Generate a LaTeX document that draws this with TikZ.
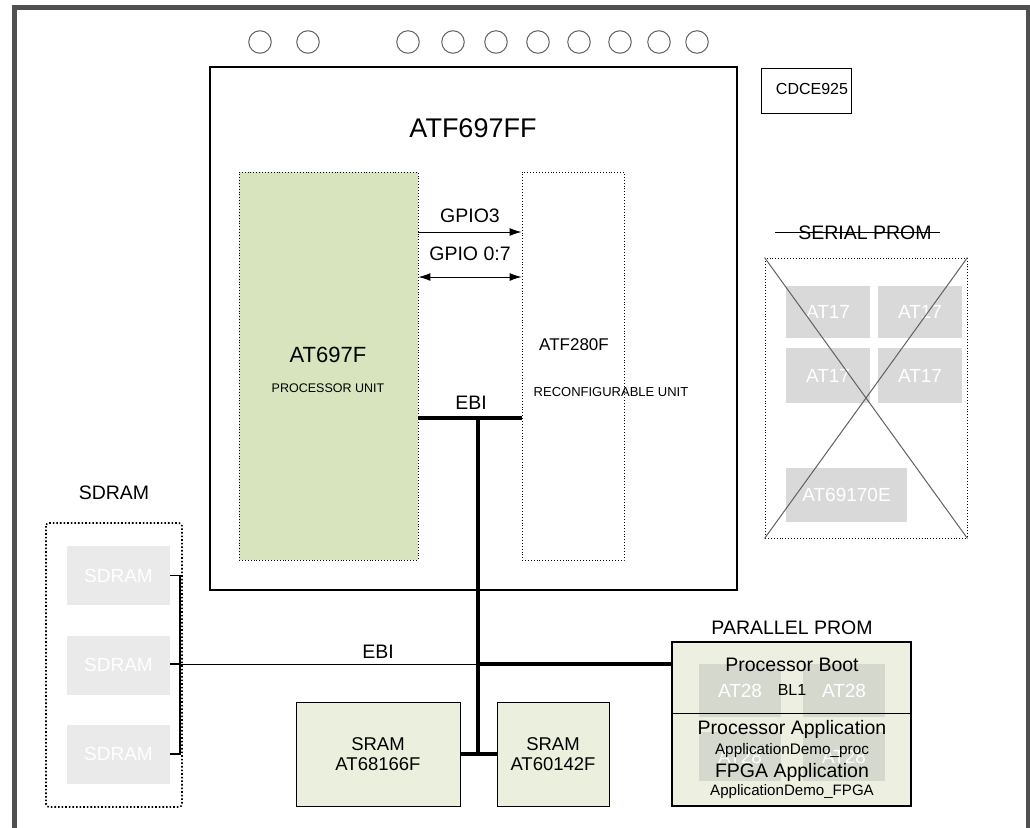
\documentclass[tikz,border=0pt]{standalone}
\usepackage{fontspec}
\setmainfont{Liberation Sans}
\usetikzlibrary{arrows.meta}
\definecolor{framec}{HTML}{505050}
\definecolor{procgreen}{HTML}{D7E4BD}
\definecolor{promfill}{HTML}{EDF0E1}
\definecolor{sramfill}{HTML}{EBF0DE}
\definecolor{chipgray}{HTML}{D9D9D9}
\definecolor{sdgray}{HTML}{EAEAEA}
\definecolor{atgray}{HTML}{D5D8CC}
\definecolor{circ}{HTML}{606060}
\newcommand{\fs}[1]{\fontsize{#1}{#1}\selectfont}
\tikzset{
  blk/.style={draw, line width=1.2pt, inner sep=0pt},
  dotbox/.style={draw, dotted, line width=0.9pt, inner sep=0pt},
  chip/.style={fill=chipgray, inner sep=0pt, text=white, font=\fs{19}},
  lbl/.style={inner sep=0pt, font=\fs{19.5}},
  bus/.style={line width=4.5pt},
  thin/.style={line width=1pt},
  pin/.style={draw=circ, line width=1pt, circle, minimum size=22.5pt, inner sep=0pt},
  arr/.style={line width=1pt, -{Latex[length=12pt,width=8pt]}},
  darr/.style={line width=1pt, {Latex[length=12pt,width=8pt]}-{Latex[length=12pt,width=8pt]}}
}
\begin{document}
\begin{tikzpicture}[x=1pt,y=-1pt]
\useasboundingbox (0,0) rectangle (1030,827);
% outer frame
\draw[framec, line width=5pt] (14.5,835) -- (14.5,7.5) -- (1028.5,7.5) -- (1028.5,835);
% pins
\foreach \i/\x in {1/260,2/308,3/408,4/453,5/496,6/538,7/579,8/620,9/659,10/697}
  \node[pin] (pin\i) at (\x,42) {};
% main device
\node[blk, minimum width=527pt, minimum height=523pt] (atf) at (473.5,328.5) {};
\node[lbl, font=\fs{27}] (atftitle) at (473,128) {ATF697FF};
% processor
\node[dotbox, fill=procgreen, minimum width=179pt, minimum height=388pt] (proc) at (328.5,366) {};
\node[lbl, font=\fs{22}] (proct) at (328,355) {AT697F};
\node[lbl, font=\fs{12.5}] (procs) at (328,388) {PROCESSOR UNIT};
% reconfigurable
\node[dotbox, minimum width=102pt, minimum height=388pt] (recon) at (573,366) {};
\node[lbl, font=\fs{17}] (recont) at (574,345) {ATF280F};
\node[lbl, font=\fs{13}] (recons) at (611,392) {RECONFIGURABLE UNIT};
% GPIO
\coordinate (g3) at (0,232);
\coordinate (g07) at (0,277);
\coordinate (ebiy) at (0,418);
\draw[arr] (proc.east |- g3) -- (recon.west |- g3);
\draw[darr] (proc.east |- g07) -- (recon.west |- g07);
\node[lbl] (gpio3) at (470,216) {GPIO3};
\node[lbl] (gpio07) at (470,254) {GPIO 0:7};
\node[lbl] (ebi1) at (471,403) {EBI};
% CDCE925
\node[draw, line width=0.8pt, minimum width=90pt, minimum height=45pt, inner sep=0pt] (cdce) at (806,90.5) {};
\node[lbl, font=\fs{16}] (cdcet) at (812,89) {CDCE925};
% serial prom
\node[lbl] (sertitle) at (865,233) {SERIAL PROM};
\draw[thin] (775,232.5) -- (940,232.5);
\node[dotbox, minimum width=202pt, minimum height=280pt] (serial) at (866,398) {};
\node[chip, minimum width=84pt, minimum height=52pt] (at17a) at (828,312) {AT17};
\node[chip, minimum width=84pt, minimum height=52pt] (at17b) at (920,312) {AT17};
\node[chip, minimum width=84pt, minimum height=55pt] (at17c) at (828,375.5) {AT17};
\node[chip, minimum width=84pt, minimum height=55pt] (at17d) at (920,375.5) {AT17};
\node[chip, minimum width=121pt, minimum height=54pt] (at69) at (846.5,495) {AT69170E};
\draw[thin, circ] (serial.north west) -- (serial.south east);
\draw[thin, circ] (serial.north east) -- (serial.south west);
% SDRAM
\node[lbl] (sdtitle) at (114,493) {SDRAM};
\draw[dotted, line width=1.6pt, rounded corners=3pt] (46,523) rectangle (182,807);
\node[chip, fill=sdgray, minimum width=103pt, minimum height=59pt] (sd1) at (118.5,575.5) {SDRAM};
\node[chip, fill=sdgray, minimum width=103pt, minimum height=59pt] (sd2) at (118.5,665) {SDRAM};
\node[chip, fill=sdgray, minimum width=103pt, minimum height=59pt] (sd3) at (118.5,754) {SDRAM};
\coordinate (sdb1) at (180,575.5);
\coordinate (sdb2) at (180,664);
\coordinate (sdb3) at (180,754);
\draw[line width=1.6pt] (sd1.east) -- (sdb1) -- (sdb3) -- (sd3.east);
\draw[line width=1.6pt] (sd2.east |- sdb2) -- (sdb2);
% SRAM
\node[draw, line width=0.8pt, fill=sramfill, minimum width=164pt, minimum height=104pt, inner sep=0pt, align=center, font=\fs{18.5}] (sram1) at (378,754) {SRAM\\[2pt]AT68166F};
\node[draw, line width=0.8pt, fill=sramfill, minimum width=112pt, minimum height=104pt, inner sep=0pt, align=center, font=\fs{18.5}] (sram2) at (553,754) {SRAM\\[2pt]AT60142F};
% parallel prom
\node[lbl] (partitle) at (792,628) {PARALLEL PROM};
\node[draw, line width=1.2pt, fill=promfill, minimum width=239pt, minimum height=164pt, inner sep=0pt] (pprom) at (791.5,724) {};
\node[chip, fill=atgray, minimum width=82pt, minimum height=53pt] (at28a) at (740,690.5) {AT28};
\node[chip, fill=atgray, minimum width=82pt, minimum height=53pt] (at28b) at (844,690.5) {AT28};
\node[chip, fill=atgray, minimum width=82pt, minimum height=49pt] (at28c) at (740,756.5) {AT28};
\node[chip, fill=atgray, minimum width=82pt, minimum height=49pt] (at28d) at (844,756.5) {AT28};
\coordinate (divy) at (0,713);
\draw[line width=0.8pt] (pprom.west |- divy) -- (pprom.east |- divy);
\node[lbl] (pboot) at (792,665) {Processor Boot};
\node[lbl, font=\fs{16}] (bl1) at (792,690) {BL1};
\node[lbl] (papp) at (792,729) {Processor Application};
\node[lbl, font=\fs{15.3}] (pappd) at (792,751) {ApplicationDemo\_proc};
\node[lbl] (fapp) at (792,772) {FPGA Application};
\node[lbl, font=\fs{15.1}] (fappd) at (792,792) {ApplicationDemo\_FPGA};
% EBI buses
\coordinate (bustop) at (478,418);
\coordinate (busmid) at (478,664);
\coordinate (busbot) at (478,754);
\draw[bus] (proc.east |- ebiy) -- (recon.west |- ebiy);
\draw[bus] (bustop) -- (busbot);
\draw[bus] (sram1.east |- busbot) -- (sram2.west |- busbot);
\draw[bus] (busmid) -- (pprom.west |- busmid);
\draw[thin] (sdb2) -- (busmid);
\node[lbl] (ebi2) at (378,652) {EBI};
\end{tikzpicture}
\end{document}
